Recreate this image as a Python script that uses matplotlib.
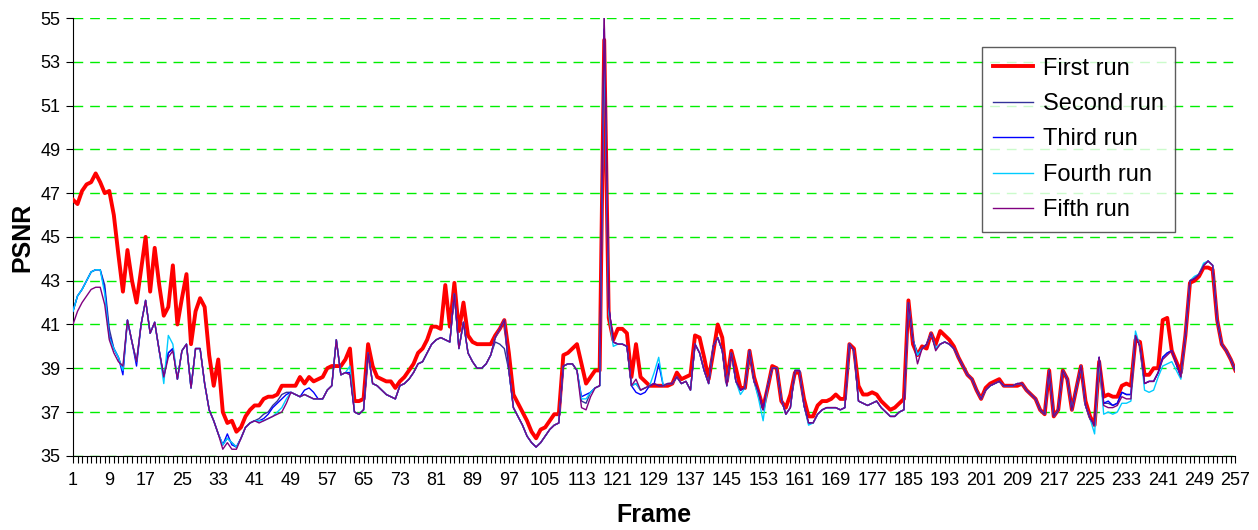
import matplotlib
matplotlib.use("Agg")
import matplotlib.pyplot as plt
import numpy as np

plt.rcParams['font.family'] = ['Liberation Sans', 'DejaVu Sans']

frames = list(range(1, 258))

first_run = [
    46.7, 46.5, 47.1, 47.4, 47.5, 47.9, 47.5, 47.0, 47.1, 46.0,
    44.2, 42.5, 44.4, 43.0, 42.0, 43.5, 45.0, 42.5, 44.5, 42.8,
    41.4, 41.8, 43.7, 41.0, 42.2, 43.3, 40.1, 41.6, 42.2, 41.8,
    39.6, 38.2, 39.4, 37.0, 36.5, 36.6, 36.1, 36.3, 36.8, 37.1,
    37.3, 37.3, 37.6, 37.7, 37.7, 37.8, 38.2, 38.2, 38.2, 38.2,
    38.6, 38.3, 38.6, 38.4, 38.5, 38.6, 39.0, 39.1, 39.1, 39.1,
    39.4, 39.9, 37.5, 37.5, 37.6, 40.1, 39.1, 38.6, 38.5, 38.4,
    38.4, 38.1, 38.4, 38.6, 38.9, 39.2, 39.7, 39.9, 40.3, 40.9,
    40.9, 40.8, 42.8, 40.9, 42.9, 40.7, 42.0, 40.5, 40.2, 40.1,
    40.1, 40.1, 40.1, 40.5, 40.8, 41.2, 39.7, 37.8, 37.4, 37.0,
    36.6, 36.1, 35.8, 36.2, 36.3, 36.6, 36.9, 36.9, 39.6, 39.7,
    39.9, 40.1, 39.2, 38.3, 38.6, 38.9, 38.9, 54.0, 41.3, 40.3,
    40.8, 40.8, 40.6, 38.6, 40.1, 38.6, 38.4, 38.2, 38.2, 38.2,
    38.2, 38.2, 38.3, 38.8, 38.5, 38.6, 38.7, 40.5, 40.4, 39.5,
    38.5, 39.7, 41.0, 40.4, 38.4, 39.8, 39.0, 38.1, 38.1, 39.8,
    38.6, 37.9, 37.2, 38.1, 39.1, 39.0, 37.5, 37.2, 37.8, 38.8,
    38.8, 37.6, 36.8, 36.8, 37.3, 37.5, 37.5, 37.6, 37.8, 37.6,
    37.6, 40.1, 39.9, 38.2, 37.8, 37.8, 37.9, 37.8, 37.5, 37.3,
    37.1, 37.2, 37.4, 37.6, 42.1, 40.1, 39.6, 40.0, 39.9, 40.6,
    40.1, 40.7, 40.5, 40.3, 40.0, 39.5, 39.1, 38.7, 38.5, 38.0,
    37.6, 38.1, 38.3, 38.4, 38.5, 38.2, 38.2, 38.2, 38.2, 38.3,
    38.0, 37.8, 37.6, 37.1, 36.9, 38.9, 36.8, 37.1, 38.9, 38.5,
    37.1, 38.1, 39.1, 37.5, 36.8, 36.4, 39.3, 37.7, 37.8, 37.7,
    37.7, 38.2, 38.3, 38.2, 40.3, 40.2, 38.7, 38.7, 39.0, 39.0,
    41.2, 41.3, 39.8, 39.3, 38.8, 40.5, 42.9, 43.0, 43.2, 43.6,
    43.6, 43.5, 41.2, 40.1, 39.8, 39.4, 38.9,
]

second_run = [
    41.6, 42.3, 42.6, 43.0, 43.4, 43.5, 43.5, 42.8, 40.8, 39.9,
    39.5, 38.9, 41.2, 40.2, 39.3, 41.0, 42.1, 40.6, 41.1, 39.8,
    38.6, 39.7, 39.9, 38.5, 39.8, 40.1, 38.1, 39.9, 39.9, 38.3,
    37.1, 36.6, 36.0, 35.5, 35.8, 35.6, 35.4, 35.8, 36.3, 36.5,
    36.6, 36.7, 36.9, 37.0, 37.3, 37.5, 37.8, 37.9, 37.9, 37.8,
    37.7, 37.8, 37.7, 37.6, 37.6, 37.6, 38.0, 38.2, 40.3, 38.7,
    38.8, 38.8, 37.0, 36.9, 37.1, 39.7, 38.3, 38.2, 38.0, 37.8,
    37.7, 37.6, 38.2, 38.3, 38.5, 38.8, 39.2, 39.3, 39.7, 40.1,
    40.3, 40.4, 40.3, 40.2, 42.4, 39.9, 41.1, 39.7, 39.3, 39.0,
    39.0, 39.2, 39.6, 40.2, 40.1, 39.9, 38.9, 37.2, 36.8, 36.4,
    35.9, 35.6, 35.4, 35.6, 35.9, 36.2, 36.4, 36.5, 39.1, 39.2,
    39.2, 38.9, 37.5, 37.4, 37.9, 38.1, 38.2, 55.0, 41.8, 40.2,
    40.1, 40.1, 40.0, 38.2, 38.3, 38.0, 38.1, 38.2, 38.3, 38.2,
    38.2, 38.3, 38.3, 38.6, 38.3, 38.4, 38.0, 40.1, 39.7, 38.9,
    38.3, 40.0, 40.4, 39.8, 38.2, 39.7, 38.4, 38.0, 38.1, 39.8,
    38.4, 37.9, 37.1, 38.2, 39.0, 39.0, 37.6, 36.9, 37.2, 38.9,
    38.9, 37.3, 36.5, 36.5, 36.9, 37.1, 37.2, 37.2, 37.2, 37.1,
    37.2, 40.1, 39.8, 37.5, 37.4, 37.3, 37.4, 37.5, 37.2, 37.0,
    36.8, 36.8, 37.0, 37.1, 42.0, 40.3, 39.6, 39.9, 40.1, 40.6,
    39.9, 40.1, 40.2, 40.1, 39.9, 39.5, 39.1, 38.7, 38.5, 38.0,
    37.6, 38.0, 38.2, 38.3, 38.4, 38.2, 38.2, 38.2, 38.3, 38.3,
    38.0, 37.8, 37.6, 37.1, 36.9, 38.9, 36.8, 37.1, 38.9, 38.5,
    37.1, 38.1, 39.1, 37.3, 36.7, 36.4, 39.5, 37.4, 37.4, 37.3,
    37.4, 37.9, 37.8, 37.8, 40.5, 40.0, 38.3, 38.4, 38.4, 38.8,
    39.5, 39.7, 39.8, 39.2, 38.6, 40.5, 43.0, 43.1, 43.3, 43.7,
    43.9, 43.7, 41.2, 40.1, 39.8, 39.4, 38.9,
]

# frames where the later runs differ from the second run
third_diff = {
    8: 42.6, 9: 40.5, 12: 38.7, 15: 39.1, 35: 36.0, 36: 35.5,
    42: 36.6, 43: 36.7, 44: 36.9, 45: 37.2, 46: 37.4, 47: 37.6, 48: 37.8,
    52: 38.0, 53: 38.1, 54: 37.9, 94: 40.4, 95: 40.8, 96: 41.2,
    113: 37.7, 114: 37.8, 115: 37.9, 118: 54.5, 125: 37.9, 126: 37.8,
    127: 37.9, 130: 39.2, 229: 37.5,
}
fourth_diff = {
    8: 42.4, 9: 40.4, 21: 38.3, 22: 40.5, 23: 40.1,
    42: 36.6, 43: 36.6, 44: 36.7, 45: 36.8, 46: 37.0, 47: 37.2, 48: 37.6,
    62: 39.1, 94: 40.4, 95: 40.8, 96: 41.2, 113: 37.6, 114: 37.6,
    118: 54.0, 119: 41.5, 120: 40.0, 129: 38.8, 130: 39.5, 148: 37.8,
    152: 37.6, 153: 36.6, 163: 36.4, 226: 36.0, 227: 39.4, 228: 36.9,
    229: 37.0, 230: 36.9, 231: 37.0, 232: 37.4, 233: 37.4, 234: 37.5,
    235: 40.7, 237: 38.0, 238: 37.9, 239: 38.0, 240: 38.6, 241: 39.1,
    242: 39.2, 243: 39.3, 244: 38.9, 245: 38.5, 248: 43.2, 250: 43.8,
}
fifth_diff = {
    1: 41.0, 2: 41.6, 3: 42.0, 4: 42.3, 5: 42.6, 6: 42.7, 7: 42.7,
    8: 41.9, 9: 40.3, 10: 39.7, 11: 39.3, 12: 39.1, 22: 39.5, 23: 39.8,
    34: 35.3, 35: 35.6, 36: 35.3, 37: 35.3,
    42: 36.5, 43: 36.6, 44: 36.7, 45: 36.8, 46: 36.9, 47: 37.0, 48: 37.4,
    49: 37.9, 62: 38.7, 94: 40.4, 95: 40.8, 96: 41.2,
    113: 37.2, 114: 37.1, 115: 37.7, 125: 38.5, 187: 39.2, 191: 39.8,
    228: 37.3, 229: 37.2, 230: 37.2, 231: 37.3, 232: 37.7, 233: 37.6,
    234: 37.6, 241: 39.4, 242: 39.6,
}

third_run = [third_diff.get(f, v) for f, v in zip(frames, second_run)]
fourth_run = [fourth_diff.get(f, v) for f, v in zip(frames, second_run)]
fifth_run = [fifth_diff.get(f, v) for f, v in zip(frames, second_run)]

series = [
    ("First run", first_run, "#ff0000", 2.8),
    ("Second run", second_run, "#333399", 1.0),
    ("Third run", third_run, "#0000ff", 1.0),
    ("Fourth run", fourth_run, "#00ccff", 1.0),
    ("Fifth run", fifth_run, "#800080", 1.0),
]

fig, ax = plt.subplots(figsize=(12.58, 5.30), dpi=100)
fig.subplots_adjust(left=0.058, right=0.982, top=0.966, bottom=0.14)

for name, vals, col, lw in series:
    ax.plot(frames, vals, color=col, linewidth=lw, label=name,
            solid_joinstyle='round', zorder=3)

ax.set_xlim(1, 257)
ax.set_ylim(35, 55)
ax.set_yticks(np.arange(35, 56, 2))
ax.set_xticks(np.arange(1, 258, 8))
ax.set_xticks(frames, minor=True)
ax.tick_params(axis='both', which='both', direction='out', length=5,
               width=0.8, color='black', labelsize=13)
ax.tick_params(axis='y', pad=4)
ax.tick_params(axis='x', pad=7)

ax.yaxis.grid(True, color='#00ee00', linestyle=(0, (7, 5)), linewidth=1)
ax.set_axisbelow(True)
for s in ['top', 'right']:
    ax.spines[s].set_visible(False)
for s in ['left', 'bottom']:
    ax.spines[s].set_color('black')
    ax.spines[s].set_linewidth(0.8)

ax.set_ylabel('PSNR', fontsize=18, fontweight='bold', labelpad=4)
ax.set_xlabel('Frame', fontsize=18, fontweight='bold', labelpad=10)

leg = ax.legend(loc='upper left', bbox_to_anchor=(0.782, 0.934),
                fontsize=17, frameon=True, fancybox=False, shadow=False,
                handlelength=1.7, labelspacing=0.57, borderpad=0.45,
                handletextpad=0.45, borderaxespad=0)
leg.get_frame().set_edgecolor('#333333')
leg.get_frame().set_linewidth(1.0)

fig.savefig('out.png', dpi=100)
